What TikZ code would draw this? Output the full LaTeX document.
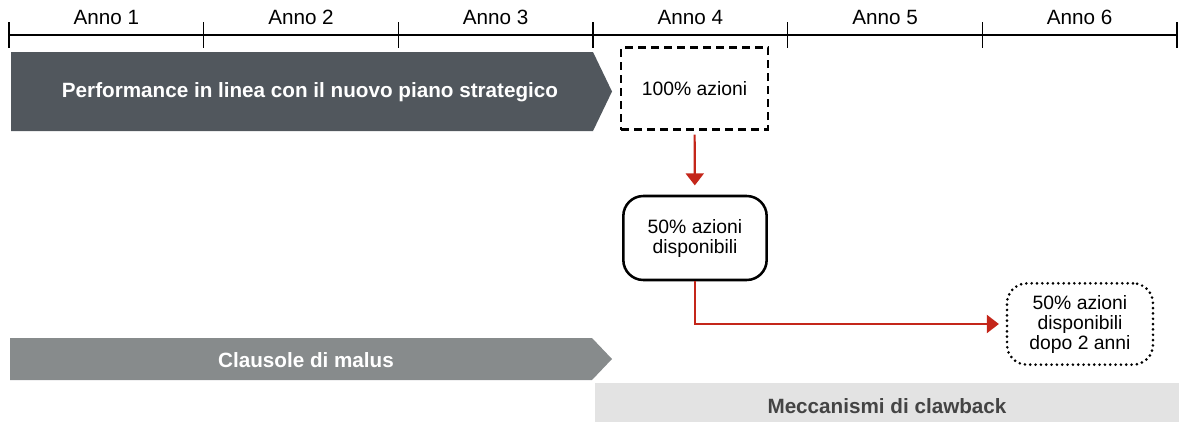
\documentclass[tikz,border=0pt]{standalone}
\usepackage{fontspec}
\setmainfont{Liberation Sans}
\usetikzlibrary{arrows.meta}
\definecolor{scuro}{HTML}{51575D}
\definecolor{grigio}{HTML}{878B8C}
\definecolor{chiaro}{HTML}{E3E3E3}
\definecolor{rosso}{HTML}{C4261A}
\definecolor{testo}{HTML}{444444}
\tikzset{
  anno/.style={font=\fontsize{15.5}{18}\selectfont},
  banda/.style={text=white, font=\bfseries\fontsize{15.5}{18}\selectfont},
  casella/.style={align=center, font=\fontsize{14.5}{15}\selectfont, inner sep=0pt},
  freccia/.style={rosso, line width=1.6pt, -{Triangle[width=13.5pt,length=9pt]}}
}
\begin{document}
\begin{tikzpicture}[x=0.75pt, y=-0.75pt]
\useasboundingbox (0,0) rectangle (1179,422);

% Asse degli anni
\draw[line width=1pt] (9,35) -- (1177,35);
\foreach \i in {0,...,6}
  \draw[line width=1pt] (9+194.67*\i,22) -- ++(0,26);
\foreach \i in {1,...,6}
  \node[anno] (anno\i) at (9+194.67*\i-97.33,17) {Anno \i};

% Bande
\fill[scuro] (11,52) -- (593,52) -- (612,91.5) -- (593,131) -- (11,131) -- cycle;
\node[banda] (perf) at (310,92) {Performance in linea con il nuovo piano strategico};
\fill[grigio] (10,338) -- (592,338) -- (612,359) -- (592,380) -- (10,380) -- cycle;
\node[banda] (malus) at (306,360) {Clausole di malus};
\fill[chiaro] (595,383) rectangle (1179,422);
\node[banda, text=testo] (claw) at (887,406) {Meccanismi di clawback};

% Caselle
\node[casella, draw, line width=1.6pt, dash pattern=on 6pt off 3.75pt,
  minimum width=110pt, minimum height=61.5pt] (cento) at (694.5,88.5) {100\% azioni};
\node[casella, draw, line width=1.9pt, rounded corners=15pt,
  minimum width=107.5pt, minimum height=63pt] (meta) at (695,238) {50\% azioni\\disponibili};
\node[casella, draw, line width=2.2pt, line cap=round, dash pattern=on 0pt off 4pt,
  rounded corners=15pt, minimum width=109.5pt, minimum height=61pt] (dopo) at (1080,324) {50\% azioni\\disponibili\\dopo 2 anni};

% Frecce
\draw[freccia, shorten <=3pt, shorten >=7pt] (cento) -- (meta);
\draw[freccia, shorten >=5pt] (meta.south) |- (dopo.west);
\end{tikzpicture}
\end{document}
